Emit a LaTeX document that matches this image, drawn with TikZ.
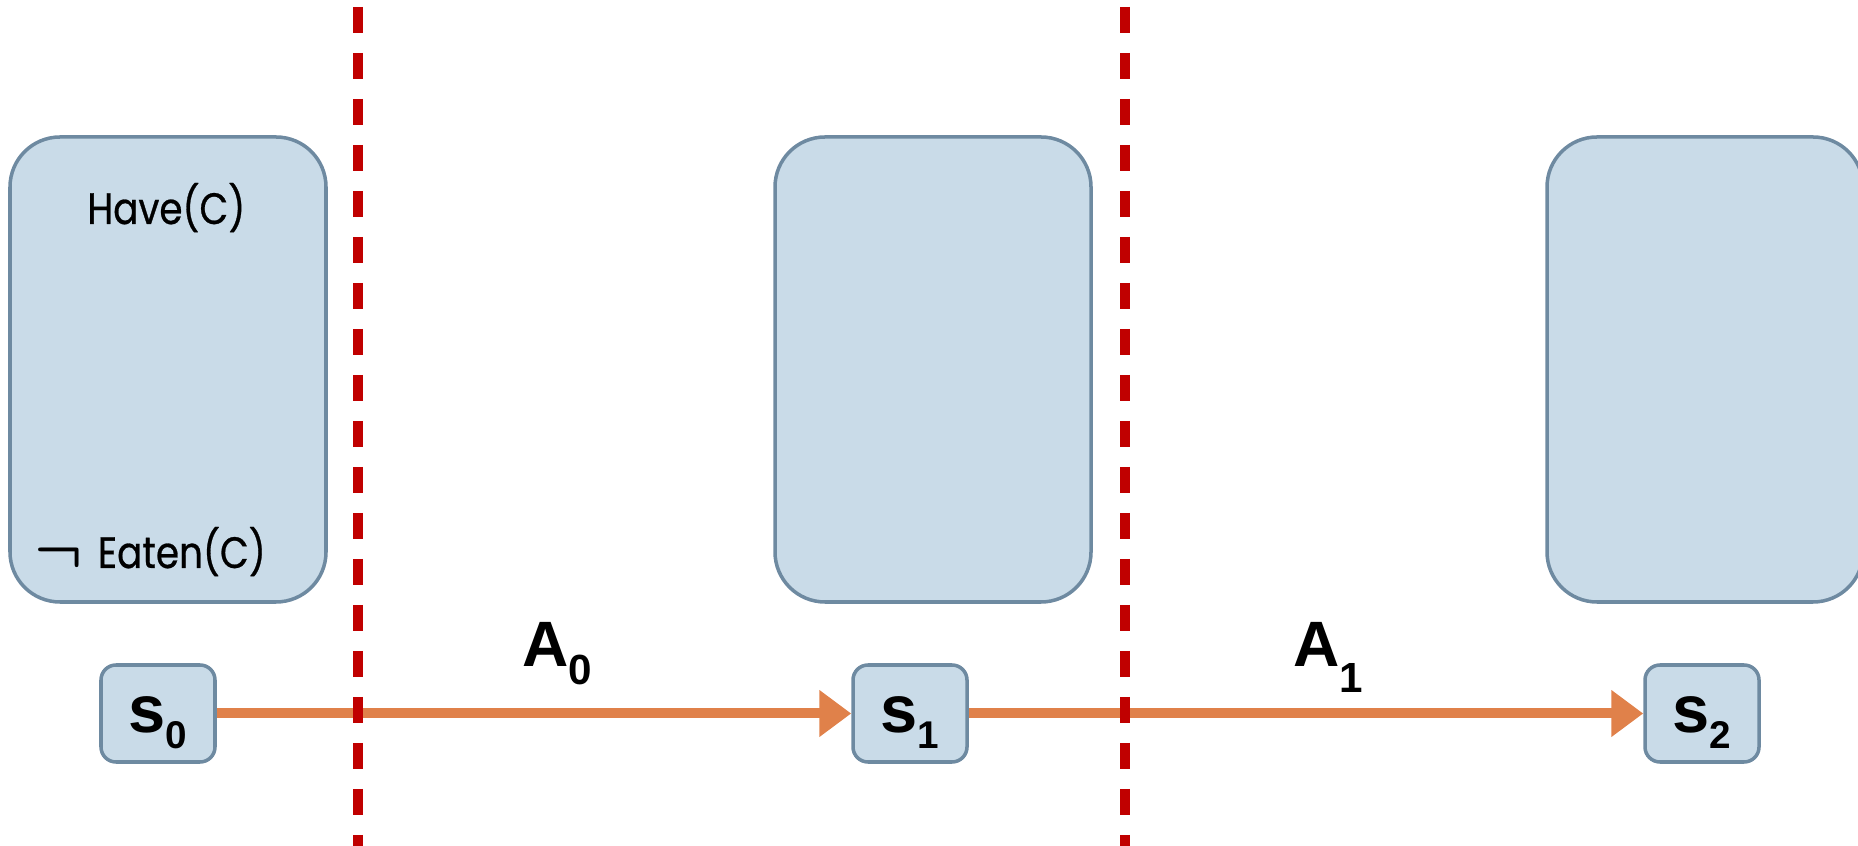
\documentclass[tikz,border=0pt]{standalone}
\usepackage{fontspec}
\setmainfont{Liberation Sans}
\newfontfamily\geofont[FakeStretch=0.85,FakeBold=0.6]{Poppins}
\usepackage{xcolor}
\usetikzlibrary{arrows.meta}

\definecolor{boxfill}{HTML}{C9DBE8}
\definecolor{boxline}{HTML}{6E8AA1}
\definecolor{cutred}{HTML}{C00000}
\definecolor{actorange}{HTML}{E0814A}

\newcommand{\stsub}[1]{\raisebox{-9pt}{\fontsize{22}{22}\selectfont #1}}
\newcommand{\actsub}[2][10pt]{\raisebox{-#1}{\fontsize{24}{24}\selectfont #2}}

\begin{document}
\begin{tikzpicture}
\tikzstyle{world} = [draw=boxline, fill=boxfill, line width=2pt, rounded corners=1cm, minimum width=6.32cm, minimum height=9.3cm, inner sep=0pt]
\tikzstyle{snap} = [draw=boxline, fill=boxfill, line width=2pt, rounded corners=0.3cm, minimum width=2.28cm, minimum height=1.94cm, inner sep=0pt, font=\fontsize{38}{38}\selectfont\bfseries, text height=31pt, text depth=9pt]
\tikzstyle{act} = [-{Triangle[length=0.64cm,width=0.9cm]}, draw=actorange, line width=0.2cm]
\tikzstyle{cut} = [draw=cutred, line width=0.2cm, dash pattern=on 0.52cm off 0.4cm]
\tikzstyle{alabel} = [anchor=base west, inner sep=0pt, font=\fontsize{36.5}{36.5}\selectfont\bfseries]
\tikzstyle{fact} = [anchor=base west, inner sep=0pt, font=\geofont\fontsize{25}{25}\selectfont]
%
	\path[clip] (0,0) rectangle (37.16,16.92);

	% world states
	\node[world] (w0) at (3.36,9.53) {};
	\node[world] (w1) at (18.66,9.53) {};
	\node[world] (w2) at (34.10,9.53) {};

	\node[fact] (have) at (1.74,12.44) {Have(C)};
	\node[fact] (eaten) at (0.68,5.56) {\raisebox{-2pt}{\scalebox{1.45}{\boldmath$\neg$}}\hspace{0.3cm}Eaten(C)};

	% situations
	\node[snap] (s0) at (3.16,2.65) {s\stsub{0}};
	\node[snap] (s1) at (18.2,2.65) {s\stsub{1}};
	\node[snap] (s2) at (34.04,2.65) {s\stsub{2}};

	\draw[act] (s0) -- (s1);
	\draw[act] (s1) -- (s2);

	\node[alabel] (a0) at (10.44,3.58) {A\actsub{0}};
	\node[alabel] (a1) at (25.86,3.58) {A\actsub[14.5pt]{1}};

	% time cuts
	\draw[cut] (7.16,16.78) -- (7.16,0);
	\draw[cut] (22.49,16.78) -- (22.49,0);
\end{tikzpicture}
\end{document}
